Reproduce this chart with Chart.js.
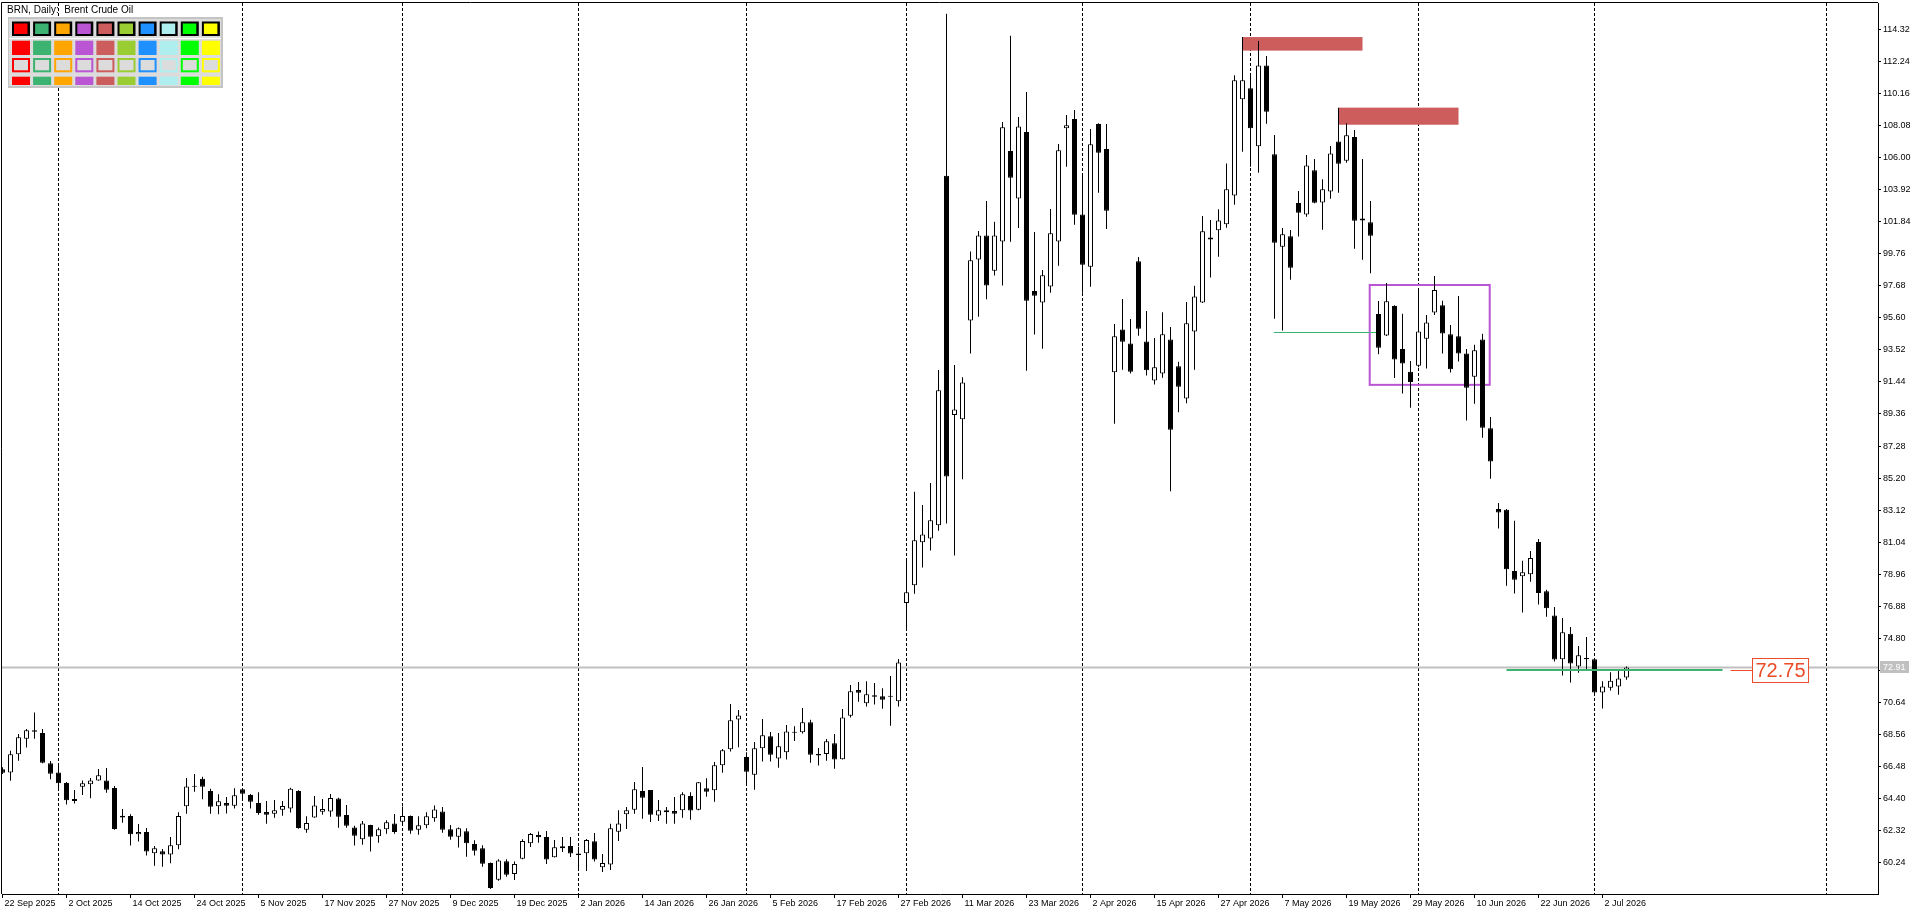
<!DOCTYPE html>
<html lang="pt-BR">
<head>
<meta charset="UTF-8">
<title>BRN, Daily</title>
<script src="https://cdn.jsdelivr.net/npm/chart.js@4"></script>
<style>
  html, body { margin: 0; padding: 0; background: #fff; overflow: hidden; }
  canvas { display: block; }
</style>
</head>
<body>
<canvas id="grafico" width="1920" height="915"></canvas>
<script>
// Velas diárias (abertura, máxima, mínima, fechamento)
const abertura = [
  66.30, 66.10, 67.27, 68.29, 68.83, 68.66, 66.69, 66.10, 65.41, 64.37,
  65.17, 65.33, 65.58, 65.58, 65.09, 63.29, 63.27, 62.08, 62.23, 60.85,
  60.98, 60.78, 61.37, 63.90, 65.17, 65.69, 64.89, 63.90, 64.11, 63.94,
  65.00, 64.63, 64.11, 63.53, 63.42, 63.68, 63.75, 64.89, 62.38, 63.18,
  63.55, 63.57, 64.40, 63.34, 62.53, 61.76, 62.68, 61.95, 62.41, 62.79,
  62.90, 63.27, 62.38, 62.67, 63.12, 63.57, 62.41, 61.93, 62.28, 61.45,
  61.17, 60.22, 59.14, 60.33, 59.51, 60.50, 61.50, 62.04, 61.91, 60.59,
  61.17, 61.32, 60.83, 60.85, 61.63, 59.94, 60.13, 62.25, 63.38, 63.68,
  64.89, 64.96, 63.31, 63.51, 63.59, 63.64, 64.57, 63.68, 65.07, 64.94,
  66.56, 67.60, 69.54, 67.10, 65.95, 67.66, 68.44, 67.01, 67.40, 68.68,
  68.70, 69.35, 67.29, 67.29, 67.99, 66.95, 69.78, 71.45, 70.58, 71.10,
  71.04, 71.01, 70.71, 77.10, 78.24, 81.04, 81.28, 82.14, 104.82, 89.29,
  89.02, 95.43, 99.39, 100.94, 98.65, 100.55, 106.42, 103.35, 107.66, 97.34,
  96.60, 97.64, 100.56, 107.90, 108.50, 102.31, 98.92, 108.18, 106.55, 92.06,
  94.85, 93.94, 99.27, 94.07, 91.54, 91.99, 94.20, 92.45, 90.37, 94.72,
  96.60, 100.82, 101.28, 101.67, 103.53, 109.78, 110.49, 106.73, 111.98, 106.21,
  100.22, 100.89, 103.05, 102.31, 105.17, 103.09, 103.79, 107.05, 105.80, 107.33,
  101.92, 101.80, 95.85, 94.46, 96.36, 93.58, 92.10, 92.49, 94.24, 95.94,
  96.41, 94.54, 94.40, 93.29, 91.78, 94.19, 88.44, 83.20, 83.14, 79.17,
  78.83, 78.96, 81.05, 77.85, 76.28, 73.45, 75.09, 72.97, 73.53, 73.45,
  71.28, 71.59, 71.67, 72.26
];
const maxima = [
  66.43, 67.51, 68.59, 68.92, 69.98, 68.92, 66.84, 66.64, 65.48, 64.96,
  65.58, 65.74, 66.32, 66.39, 65.22, 63.72, 63.38, 62.75, 62.49, 61.32,
  61.13, 61.91, 63.51, 65.74, 65.99, 65.82, 65.04, 64.68, 64.50, 65.07,
  65.09, 64.70, 64.81, 64.24, 64.31, 64.24, 65.11, 64.94, 63.25, 64.57,
  64.37, 64.70, 64.46, 63.99, 62.64, 62.95, 62.71, 62.53, 62.99, 63.40,
  63.88, 63.31, 63.25, 63.51, 63.96, 63.85, 62.69, 62.53, 62.47, 61.69,
  61.37, 60.26, 60.46, 60.46, 60.31, 61.76, 62.17, 62.27, 62.30, 61.71,
  61.91, 61.91, 61.28, 61.78, 62.17, 60.81, 62.77, 63.64, 63.85, 65.48,
  66.45, 64.96, 64.31, 63.85, 64.50, 64.81, 64.81, 65.48, 65.72, 66.78,
  67.62, 70.54, 70.15, 67.40, 68.07, 69.57, 68.72, 68.66, 69.18, 69.09,
  70.28, 69.52, 67.68, 68.27, 68.59, 70.22, 71.77, 71.97, 72.01, 71.90,
  71.56, 72.36, 73.46, 79.88, 84.32, 83.45, 84.88, 92.21, 115.33, 92.54,
  91.74, 99.90, 101.24, 103.18, 101.84, 108.30, 113.91, 108.63, 110.25, 101.17,
  98.70, 102.66, 106.88, 108.76, 109.09, 104.80, 107.85, 108.22, 108.18, 95.20,
  96.82, 95.52, 99.55, 96.04, 94.29, 95.96, 95.00, 92.75, 96.63, 97.68,
  102.21, 101.95, 102.64, 105.62, 111.34, 113.82, 111.38, 113.56, 112.59, 107.46,
  101.43, 101.30, 103.83, 106.16, 105.91, 104.59, 106.75, 109.24, 108.22, 107.79,
  105.91, 103.18, 96.69, 97.86, 96.41, 95.86, 92.79, 97.42, 95.78, 98.32,
  96.71, 95.14, 97.02, 93.58, 93.85, 94.56, 89.16, 83.59, 83.20, 82.43,
  79.83, 80.47, 81.24, 77.95, 76.84, 76.12, 75.54, 74.30, 74.88, 73.50,
  72.02, 72.60, 72.68, 72.97
];
const minima = [
  66.00, 65.56, 66.86, 67.71, 68.29, 66.69, 65.65, 64.96, 64.01, 64.09,
  64.63, 64.42, 65.56, 64.78, 62.38, 62.84, 61.35, 61.61, 60.70, 60.05,
  59.98, 60.20, 61.11, 63.42, 64.85, 64.35, 63.42, 63.38, 63.44, 63.75,
  64.35, 63.75, 63.36, 62.77, 63.16, 63.29, 63.49, 62.45, 62.19, 63.16,
  63.36, 63.23, 62.51, 62.51, 61.35, 61.41, 60.96, 61.54, 62.12, 62.12,
  62.69, 62.12, 62.06, 62.47, 62.90, 62.19, 61.73, 61.22, 60.63, 60.70,
  59.98, 58.53, 59.07, 59.33, 59.12, 60.46, 61.26, 61.54, 60.16, 60.57,
  60.93, 60.61, 59.81, 59.70, 60.31, 59.64, 59.77, 61.65, 62.43, 63.42,
  63.10, 62.88, 62.95, 62.77, 62.77, 63.16, 63.03, 63.64, 64.52, 64.20,
  66.08, 67.45, 67.73, 65.28, 64.98, 66.80, 66.80, 66.41, 66.93, 68.14,
  68.63, 66.73, 66.54, 66.86, 66.34, 66.93, 69.67, 70.69, 70.37, 70.50,
  70.23, 69.13, 70.37, 75.46, 77.70, 79.40, 80.50, 81.78, 82.26, 80.17,
  85.12, 93.28, 95.67, 96.80, 98.35, 97.69, 100.54, 101.43, 92.17, 94.51,
  93.60, 97.23, 98.98, 105.41, 101.64, 97.23, 97.62, 103.72, 101.36, 88.73,
  92.23, 91.99, 94.44, 91.85, 91.28, 91.71, 84.34, 89.47, 90.05, 92.23,
  96.56, 98.21, 99.57, 101.45, 102.94, 106.38, 105.41, 105.02, 108.20, 95.54,
  94.77, 98.07, 100.87, 102.16, 103.03, 101.32, 103.33, 103.72, 105.67, 100.09,
  99.37, 98.49, 93.23, 94.42, 91.70, 90.69, 89.77, 92.39, 92.31, 95.78,
  93.29, 92.05, 92.76, 88.94, 90.03, 87.81, 85.16, 81.92, 78.22, 77.71,
  76.47, 78.48, 77.00, 76.20, 73.29, 72.39, 71.94, 72.57, 72.78, 71.20,
  70.24, 71.41, 71.14, 72.12
];
const fechamento = [
  66.08, 67.27, 68.38, 68.83, 68.74, 66.73, 66.02, 65.39, 64.29, 64.24,
  65.39, 65.58, 65.91, 64.98, 62.43, 63.18, 62.08, 62.23, 60.96, 61.17,
  60.78, 61.37, 63.27, 65.19, 65.22, 65.17, 63.87, 64.22, 63.94, 64.61,
  64.72, 64.20, 63.47, 63.36, 63.64, 63.92, 65.04, 62.49, 62.82, 63.96,
  63.72, 64.44, 63.23, 62.64, 61.99, 62.79, 61.93, 62.41, 62.86, 62.23,
  63.27, 62.32, 62.67, 63.25, 63.70, 62.38, 61.93, 62.47, 61.50, 61.02,
  60.18, 58.60, 60.39, 59.46, 60.16, 61.65, 62.10, 61.89, 60.44, 61.24,
  61.30, 60.83, 60.74, 61.71, 60.44, 60.22, 62.47, 62.79, 63.64, 65.00,
  64.46, 63.36, 63.64, 63.64, 63.42, 64.68, 63.62, 65.46, 64.85, 66.56,
  67.53, 69.48, 69.80, 66.15, 67.66, 68.51, 67.25, 67.79, 68.76, 68.72,
  69.35, 67.25, 67.19, 68.12, 66.93, 69.67, 71.36, 71.27, 71.17, 71.01,
  70.82, 71.04, 73.24, 77.79, 81.16, 81.54, 82.47, 90.90, 85.30, 89.65,
  91.41, 99.33, 100.94, 97.69, 100.94, 107.97, 104.69, 108.02, 96.71, 97.04,
  98.36, 101.08, 106.47, 108.09, 102.29, 99.05, 106.86, 106.32, 102.55, 94.40,
  94.05, 92.10, 94.89, 92.19, 92.39, 94.53, 88.34, 91.13, 95.24, 96.99,
  101.21, 100.69, 101.92, 103.94, 111.01, 111.01, 107.90, 111.98, 108.98, 100.47,
  101.02, 98.85, 102.42, 105.49, 103.07, 103.94, 106.27, 105.60, 107.44, 101.90,
  102.05, 100.93, 93.66, 96.67, 92.89, 92.63, 91.43, 94.72, 95.30, 97.40,
  94.59, 92.26, 93.29, 91.06, 93.50, 88.47, 86.27, 82.96, 79.28, 78.61,
  79.09, 80.02, 77.74, 76.76, 73.42, 75.20, 73.16, 73.71, 73.45, 71.28,
  71.67, 72.04, 72.20, 72.91
];

// Rótulos do eixo de datas (um a cada 8 barras)
const rotulosDatas = [
  '22 Sep 2025', '2 Oct 2025', '14 Oct 2025', '24 Oct 2025', '5 Nov 2025',
  '17 Nov 2025', '27 Nov 2025', '9 Dec 2025', '19 Dec 2025', '2 Jan 2026',
  '14 Jan 2026', '26 Jan 2026', '5 Feb 2026', '17 Feb 2026', '27 Feb 2026',
  '11 Mar 2026', '23 Mar 2026', '2 Apr 2026', '15 Apr 2026', '27 Apr 2026',
  '7 May 2026', '19 May 2026', '29 May 2026', '10 Jun 2026', '22 Jun 2026',
  '2 Jul 2026'
];
const passoDatas = 8;

// Níveis do eixo de preços
const niveisPreco = [
  60.24, 62.32, 64.40, 66.48, 68.56, 70.64, 72.72, 74.80, 76.88, 78.96,
  81.04, 83.12, 85.20, 87.28, 89.36, 91.44, 93.52, 95.60, 97.68, 99.76,
  101.84, 103.92, 106.00, 108.08, 110.16, 112.24, 114.32
];

// Separadores de mês (índice da barra)
const separadoresMes = [7, 30, 50, 72, 93, 113, 135, 156, 177, 199, 228];

// Zonas de oferta (retângulos vermelhos)
const zonaInicio = [155, 167];
const zonaFim = [170, 182];
const zonaTopo = [113.82, 109.24];
const zonaBase = [112.94, 108.13];

// Caixa de consolidação
const caixaInicio = 170.9, caixaFim = 185.9, caixaTopo = 97.73, caixaBase = 91.25;

// Linha fina horizontal
const linhaInicio = 158.9, linhaFim = 171.9, linhaPreco = 94.66;

// Suporte e rótulo
const suporteInicio = 188, suporteFim = 215, suportePreco = 72.75;
const rotuloInicio = 218.7;
const precoAtual = 72.91;

// Paleta de cores do painel
const coresPaleta = ['#FF0000', '#3CB371', '#FFA500', '#BA55D3', '#CD5C5C',
  '#9ACD32', '#1E90FF', '#AFEEEE', '#00FF00', '#FFFF00'];

const fonteEixo = 'Liberation Sans, Arial, sans-serif';

// Monta os pontos das velas
const pavios = abertura.map((o, i) => ({ x: i, y: [minima[i], maxima[i]] }));
const corpos = abertura.map((o, i) => ({ x: i, y: [o, fechamento[i]] }));
const coresCorpo = abertura.map((o, i) => fechamento[i] >= o ? '#ffffff' : '#000000');

// Desenhos extras (objetos do gráfico)
const decoracoes = {
  id: 'decoracoes',
  beforeDatasetsDraw(chart) {
    const ctx = chart.ctx;
    const area = chart.chartArea;
    const xs = chart.scales.x, ys = chart.scales.y;
    ctx.save();
    ctx.beginPath();
    ctx.rect(area.left, area.top, area.right - area.left, area.bottom - area.top);
    ctx.clip();

    // separadores de mês
    ctx.strokeStyle = '#000';
    ctx.lineWidth = 1;
    ctx.setLineDash([3, 2]);
    separadoresMes.forEach(b => {
      const x = Math.round(xs.getPixelForValue(b) - 0.5) + 0.5;
      ctx.beginPath();
      ctx.moveTo(x, area.top);
      ctx.lineTo(x, area.bottom);
      ctx.stroke();
    });
    ctx.setLineDash([]);

    // linha do preço atual
    const yAtual = ys.getPixelForValue(precoAtual);
    ctx.strokeStyle = '#C0C0C0';
    ctx.lineWidth = 2;
    ctx.beginPath();
    ctx.moveTo(area.left, yAtual);
    ctx.lineTo(area.right, yAtual);
    ctx.stroke();

    // zonas de oferta
    ctx.fillStyle = '#CD5C5C';
    zonaInicio.forEach((b, k) => {
      const x0 = xs.getPixelForValue(b), x1 = xs.getPixelForValue(zonaFim[k]);
      const y0 = ys.getPixelForValue(zonaTopo[k]), y1 = ys.getPixelForValue(zonaBase[k]);
      ctx.fillRect(x0, y0, x1 - x0, y1 - y0);
    });

    // caixa de consolidação
    ctx.strokeStyle = '#BA55D3';
    ctx.lineWidth = 2;
    const cx0 = xs.getPixelForValue(caixaInicio), cx1 = xs.getPixelForValue(caixaFim);
    const cy0 = ys.getPixelForValue(caixaTopo), cy1 = ys.getPixelForValue(caixaBase);
    ctx.strokeRect(cx0, cy0, cx1 - cx0, cy1 - cy0);

    // linha fina verde
    const yl = Math.round(ys.getPixelForValue(linhaPreco)) + 0.5;
    ctx.strokeStyle = '#3CB371';
    ctx.lineWidth = 1;
    ctx.beginPath();
    ctx.moveTo(xs.getPixelForValue(linhaInicio), yl);
    ctx.lineTo(xs.getPixelForValue(linhaFim), yl);
    ctx.stroke();
    ctx.restore();
  },
  afterDatasetsDraw(chart) {
    const ctx = chart.ctx;
    const area = chart.chartArea;
    const xs = chart.scales.x, ys = chart.scales.y;
    ctx.save();

    // suporte verde
    const ys0 = ys.getPixelForValue(suportePreco);
    ctx.strokeStyle = '#3CB371';
    ctx.lineWidth = 2;
    ctx.beginPath();
    ctx.moveTo(xs.getPixelForValue(suporteInicio), ys0);
    ctx.lineTo(xs.getPixelForValue(suporteFim), ys0);
    ctx.stroke();

    // ligação e rótulo do preço
    const vermelho = '#EB4C28';
    const xr = xs.getPixelForValue(rotuloInicio);
    ctx.strokeStyle = vermelho;
    ctx.lineWidth = 1;
    ctx.beginPath();
    ctx.moveTo(xs.getPixelForValue(suporteFim + 1), Math.round(ys0) + 0.5);
    ctx.lineTo(xr, Math.round(ys0) + 0.5);
    ctx.stroke();
    ctx.font = '20px ' + fonteEixo;
    const texto = suportePreco.toFixed(2);
    const larg = ctx.measureText(texto).width + 6;
    const bx = Math.round(xr) + 0.5, by = Math.round(ys0 - 12) + 0.5;
    ctx.fillStyle = '#fff';
    ctx.fillRect(bx, by, larg, 24);
    ctx.strokeRect(bx, by, larg, 24);
    ctx.fillStyle = vermelho;
    ctx.textBaseline = 'middle';
    ctx.textAlign = 'left';
    ctx.fillText(texto, bx + 3, by + 13);

    // bordas esquerda e superior
    ctx.strokeStyle = '#000';
    ctx.beginPath();
    ctx.moveTo(area.left - 0.5, area.bottom);
    ctx.lineTo(area.left - 0.5, area.top - 0.5);
    ctx.lineTo(area.right, area.top - 0.5);
    ctx.stroke();

    // título
    ctx.fillStyle = '#000';
    ctx.font = '10px ' + fonteEixo;
    ctx.textBaseline = 'alphabetic';
    ctx.fillText('BRN, Daily:  Brent Crude Oil', 7, 13);

    // painel de cores
    ctx.fillStyle = '#C4C4C4';
    ctx.fillRect(8, 17, 215, 71);
    ctx.fillStyle = '#DCDCDC';
    ctx.fillRect(9, 19, 212, 67);
    ctx.fillStyle = '#ffffff';
    ctx.fillRect(9, 38, 212, 1);
    coresPaleta.forEach((cor, k) => {
      const x = 12 + k * 21.1;
      ctx.fillStyle = '#000';
      ctx.fillRect(x, 21.5, 18, 14.5);
      ctx.fillStyle = cor;
      ctx.fillRect(x + 2, 23.5, 13.5, 10.5);
      ctx.fillRect(x, 40.7, 18, 14.3);
      ctx.fillRect(x, 58, 18, 14.3);
      ctx.fillStyle = '#DCDCDC';
      ctx.fillRect(x + 2, 60, 14, 10.3);
      ctx.fillStyle = cor;
      ctx.fillRect(x, 76.7, 18, 8.3);
    });
    ctx.restore();
  },
  afterDraw(chart) {
    const ctx = chart.ctx;
    const area = chart.chartArea;
    const ys = chart.scales.y;
    const y = ys.getPixelForValue(precoAtual);
    ctx.save();
    ctx.fillStyle = '#C0C0C0';
    ctx.fillRect(area.right + 2, Math.round(y) - 6, 29, 12);
    ctx.fillStyle = '#fff';
    ctx.font = '9px ' + fonteEixo;
    ctx.textBaseline = 'middle';
    ctx.fillText(precoAtual.toFixed(2), area.right + 5, Math.round(y) + 0.5);
    ctx.restore();
  }
};

// Gráfico de velas
function configurarGrafico() {
  const ctx = document.getElementById('grafico').getContext('2d');
  new Chart(ctx, {
    type: 'bar',
    data: {
      datasets: [
        {
          data: corpos,
          backgroundColor: coresCorpo,
          borderColor: '#000',
          borderWidth: 1,
          borderSkipped: false,
          barThickness: 5,
          minBarLength: 1,
          inflateAmount: 0,
          grouped: false,
          order: 1
        },
        {
          data: pavios,
          backgroundColor: '#000',
          borderWidth: 0,
          barThickness: 1,
          inflateAmount: 0,
          grouped: false,
          order: 2
        }
      ]
    },
    options: {
      responsive: false,
      animation: false,
      devicePixelRatio: 1,
      layout: { padding: { top: 3, left: 2, right: 0, bottom: 0 } },
      plugins: { legend: { display: false }, tooltip: { enabled: false } },
      scales: {
        x: {
          type: 'linear',
          min: -0.0625,
          max: 234.4375,
          offset: false,
          grid: { drawOnChartArea: false, color: '#000', tickLength: 4, offset: false },
          border: { color: '#000' },
          afterBuildTicks: s => { s.ticks = rotulosDatas.map((r, k) => ({ value: k * passoDatas })); },
          afterFit: s => { s.height = 21; s.paddingLeft = 0; s.paddingRight = 0; },
          ticks: {
            autoSkip: false, maxRotation: 0, minRotation: 0,
            align: 'start', labelOffset: 2, padding: 0, color: '#000',
            font: { family: fonteEixo, size: 9 },
            callback: v => rotulosDatas[Math.round(v / passoDatas)]
          }
        },
        y: {
          position: 'right',
          min: 58.209,
          max: 116.03,
          grid: { drawOnChartArea: false, color: '#000', tickLength: 3 },
          border: { color: '#000' },
          afterBuildTicks: s => { s.ticks = niveisPreco.map(v => ({ value: v })); },
          afterFit: s => { s.width = 42; s.paddingTop = 0; s.paddingBottom = 0; },
          ticks: {
            padding: 2, color: '#000',
            font: { family: fonteEixo, size: 9 },
            callback: v => Math.abs(v - precoAtual) < 0.5 ? '' : v.toFixed(2)
          }
        }
      }
    },
    plugins: [decoracoes]
  });
}

configurarGrafico();
</script>
</body>
</html>
